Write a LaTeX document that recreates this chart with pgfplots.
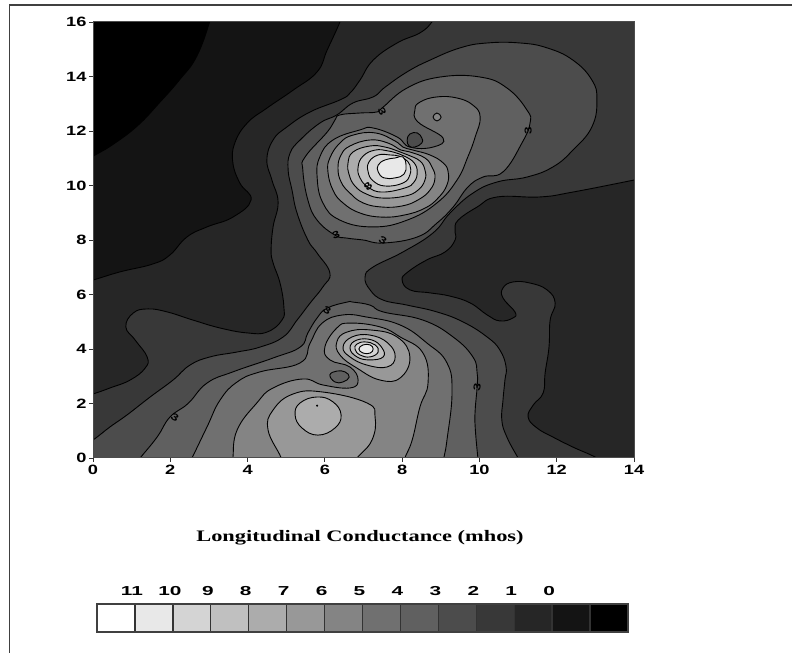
\documentclass[border=0pt]{standalone}
\usepackage{pgfplots}
\usepackage{fontspec}
\pgfplotsset{compat=1.18}
\setmainfont{Liberation Serif}
\newfontfamily\tickfont[FakeStretch=1.35]{Liberation Sans}
\newfontfamily\legendfont[FakeStretch=1.6]{Liberation Sans}
\newfontfamily\titlefont[FakeStretch=1.4]{Liberation Serif}

% legend greys, lowest band to highest
\definecolor{g0}{HTML}{141414}
\definecolor{g1}{HTML}{262626}
\definecolor{g2}{HTML}{383838}
\definecolor{g3}{HTML}{4C4C4C}
\definecolor{g4}{HTML}{606060}
\definecolor{g5}{HTML}{707070}
\definecolor{g6}{HTML}{848484}
\definecolor{g7}{HTML}{989898}
\definecolor{g8}{HTML}{ACACAC}
\definecolor{g9}{HTML}{C0C0C0}
\definecolor{g10}{HTML}{D4D4D4}
\definecolor{g11}{HTML}{E8E8E8}

\pgfplotsset{
  band/.style={draw=black, line width=0.9pt, fill=#1, smooth cycle, tension=0.75, mark=none},
  box/.style={draw=black!80, line width=1.3pt, fill=#1, mark=none},
}
\tikzset{lab/.style={font=\tickfont\bfseries\fontsize{10}{10}\selectfont, inner sep=0pt, text=black}}

\begin{document}
\begin{tikzpicture}[x=1pt, y=1pt]
\useasboundingbox (0,0) rectangle (792,653);
\draw[line width=1.3pt, draw=black!75] (792,648) -- (9.5,648) -- (9.5,0);

\begin{axis}[
  at={(93pt,195pt)}, anchor=south west,
  scale only axis, width=541pt, height=436pt,
  xmin=0, xmax=14, ymin=0, ymax=16,
  xtick={0,2,...,14}, ytick={0,2,...,16},
  tick pos=left, tick align=outside,
  major tick length=4pt,
  tick style={draw=black!80, line width=0.8pt},
  axis line style={draw=black!70, line width=1pt},
  axis on top,
  axis background/.style={fill=g0},
  /pgf/number format/assume math mode=true,
  tick label style={font=\tickfont\bfseries\fontsize{13.5}{14}\selectfont},
  xticklabel style={yshift=0pt},
  yticklabel style={xshift=1pt},
  clip=true,
]
% corner below 0
\addplot[band=black, draw=none] coordinates {
  (-0.5,10.6)(0,11.05)(0.52,11.49)(1.16,12.18)(1.73,13.03)(2.25,13.87)(2.69,14.72)(3.03,16)(3.1,16.5)(-0.5,16.5)};

% 0 contour
\addplot[band=g1] coordinates {
  (6.5,16.5)(6.39,16)(6.06,14.97)(5.80,14.17)(5.18,13.5)(4.50,12.84)(3.99,12.29)(3.67,11.56)(3.62,10.83)
  (3.80,10.09)(4.09,9.47)(3.62,8.84)(2.95,8.48)(2.43,8.11)(1.99,7.45)(1.55,7.12)(0.70,6.83)(0,6.53)(-0.5,6.35)
  (-0.5,-0.5)(14.5,-0.5)(14.5,16.5)};

% 1 contour
\addplot[band=g2] coordinates {
  (8.9,16.4)(8.77,16)(8.46,15.6)(7.87,15.23)(7.25,14.6)(6.91,13.87)(6.65,13.39)(6.39,13.14)(5.62,12.7)(5.02,12.15)
  (4.66,11.67)(4.50,10.94)(4.63,10.2)(4.79,9.39)(4.66,8.48)(4.61,7.63)(4.66,7.16)(4.84,6.42)(4.94,5.54)(4.89,5.06)
  (4.50,4.62)(3.99,4.59)(3.29,4.77)(2.59,5.06)(1.92,5.36)(1.42,5.47)(1.04,5.32)(0.85,4.81)(1.09,4.33)(1.40,3.71)
  (1.35,3.30)(0.96,2.86)(0.44,2.57)(0,2.35)(-0.5,2.15)(-0.5,-0.5)(13.6,-0.5)(13.04,0)(12.42,0.4)(11.9,0.77)(11.49,1.1)
  (11.26,1.5)(11.39,1.94)(11.65,2.39)(11.70,3.12)(11.8,4.07)(11.83,5.06)(11.96,5.69)(11.75,6.17)(11.31,6.42)(10.87,6.46)
  (10.61,6.24)(10.61,5.87)(10.92,5.36)(10.87,5.14)(10.53,5.03)(10.2,5.25)(9.76,5.69)(9.24,5.94)(8.72,6.06)(8.20,6.17)
  (8.0,6.53)(8.15,6.83)(8.64,7.27)(9.11,7.56)(9.37,8.0)(9.37,8.37)(9.45,8.73)(9.94,9.21)(10.46,9.58)(11.57,9.58)
  (12.42,9.76)(14,10.2)(14.5,10.35)(14.5,16.5)};

% 2 contour
\addplot[band=g3] coordinates {
  (-0.5,0.2)(0,0.66)(0.44,1.14)(0.88,1.58)(1.48,2.24)(2.07,2.86)(2.51,3.41)(3.03,3.71)(3.73,3.89)(4.32,4.07)(4.92,4.44)
  (5.28,5.06)(5.62,5.69)(5.95,6.28)(6.13,6.79)(5.8,7.52)(5.56,8.0)(5.28,8.99)(5.15,9.83)(5.05,10.57)(5.1,11.19)(5.36,11.67)
  (5.87,12.29)(6.31,12.59)(6.73,13.03)(7.25,13.25)(7.56,13.61)(8.13,14.17)(8.72,14.6)(9.5,15.05)(10.2,15.23)(11.05,15.23)
  (11.75,15.05)(12.42,14.6)(12.91,13.87)(13.04,13.14)(12.91,12.15)(12.42,11.3)(11.9,10.68)(11.23,10.31)(10.46,10.13)(9.83,9.72)
  (9.24,8.99)(8.8,8.26)(8.02,7.56)(7.25,7.01)(7.04,6.64)(7.17,6.17)(7.5,5.8)(8.13,5.61)(8.9,5.36)(9.58,4.99)(10.2,4.44)(10.53,3.96)
  (10.69,3.34)(10.66,2.86)(10.61,2.13)(10.58,1.39)(10.71,0.77)(11.0,0)(11.2,-0.5)(-0.5,-0.5)};

% 3 contour, upper and lower
\addplot[band=g4] coordinates {
  (6.39,12.59)(6.91,12.66)(7.35,12.70)(7.51,12.88)(8.13,13.58)(8.98,13.98)(10.02,13.98)(10.71,13.58)(11.23,12.77)(11.31,12.29)
  (11.10,11.56)(10.61,10.50)(10.09,10.31)(9.70,9.94)(9.32,9.21)(8.90,8.62)(8.39,8.11)(7.51,7.89)(6.99,8.0)(6.57,8.07)(6.26,8.18)
  (5.80,8.73)(5.56,9.47)(5.43,10.57)(5.49,11.05)(6.06,11.96)(6.26,12.40)};
\addplot[band=g4] coordinates {
  (1.0,-0.4)(1.22,0)(1.66,0.77)(1.99,1.50)(2.46,2.0)(2.95,2.75)(3.62,3.16)(4.66,3.67)(5.36,4.07)(5.56,4.59)(5.80,5.14)(6.06,5.50)
  (6.57,5.72)(6.73,5.72)(7.17,5.61)(7.51,5.36)(8.54,5.06)(9.32,4.44)(9.83,3.71)(9.94,3.12)(9.94,2.61)(9.89,1.76)(9.89,1.14)(9.96,0)(10,-0.4)};

% 4 contour
\addplot[band=g5] coordinates {
  (8.33,12.77)(8.46,13.06)(8.90,13.25)(9.42,13.21)(9.83,12.95)(10.02,12.51)(9.89,11.78)(9.70,11.05)(9.42,10.20)(8.90,9.36)(8.13,8.73)
  (7.25,8.48)(6.39,8.73)(5.95,9.36)(5.80,10.31)(5.87,11.05)(6.21,11.67)(6.91,12.04)(7.25,12.11)(7.87,11.78)(8.2,11.41)(8.80,11.41)
  (9.06,11.74)(8.41,12.33)};
\addplot[band=g5] coordinates {
  (2.4,-0.4)(2.56,0)(2.95,1.14)(3.29,2.13)(3.73,2.79)(4.32,3.16)(5.36,3.49)(5.62,4.22)(5.93,4.95)(6.47,5.25)(7.09,5.17)(7.95,4.88)
  (8.64,4.22)(9.16,3.49)(9.29,2.39)(9.16,0.66)(9.08,0)(9.05,-0.4)};

% holes of the upper lobe
\addplot[band=g3] coordinates {(8.13,11.67)(8.20,11.89)(8.39,11.93)(8.51,11.74)(8.51,11.56)(8.33,11.41)(8.18,11.45)};
\addplot[band=g6] coordinates {(8.80,12.51)(8.90,12.66)(9.01,12.51)(8.90,12.37)};

% upper peak, 5 to 10
\addplot[band=g6] coordinates {
  (8.28,11.30)(8.72,11.12)(9.06,10.83)(9.19,10.50)(9.16,10.02)(8.93,9.54)(8.59,9.17)(8.07,8.92)(7.48,8.84)(6.91,8.99)(6.47,9.36)
  (6.21,9.83)(6.08,10.50)(6.13,11.01)(6.39,11.56)(6.73,11.85)(7.30,11.93)(7.82,11.63)(8.02,11.41)};
\addplot[band=g7] coordinates {
  (8.20,11.23)(8.59,11.01)(8.77,10.68)(8.85,10.28)(8.72,9.83)(8.41,9.47)(8.0,9.25)(7.48,9.21)(6.99,9.36)(6.65,9.72)(6.42,10.13)
  (6.34,10.64)(6.42,11.12)(6.65,11.45)(7.17,11.67)(7.63,11.56)(7.97,11.30)};
\addplot[band=g8] coordinates {
  (8.15,11.12)(8.46,10.90)(8.59,10.57)(8.59,10.20)(8.41,9.83)(8.07,9.61)(7.48,9.54)(7.07,9.69)(6.78,9.98)(6.63,10.39)(6.60,10.83)
  (6.73,11.23)(7.17,11.45)(7.56,11.41)(7.95,11.23)};
\addplot[band=g9] coordinates {
  (8.10,11.05)(8.31,10.83)(8.39,10.50)(8.31,10.13)(8.07,9.91)(7.48,9.76)(7.12,9.94)(6.91,10.28)(6.86,10.68)(6.99,11.08)(7.30,11.30)
  (7.63,11.27)(7.92,11.16)};
\addplot[band=g10] coordinates {
  (8.07,10.97)(8.20,10.75)(8.20,10.39)(8.02,10.09)(7.56,9.98)(7.25,10.17)(7.12,10.50)(7.14,10.86)(7.38,11.12)(7.69,11.12)(7.92,11.08)};
\addplot[band=g11] coordinates {
  (8.02,11.05)(8.10,10.75)(8.05,10.42)(7.82,10.28)(7.53,10.28)(7.38,10.50)(7.38,10.75)(7.56,10.94)(7.82,11.01)};

% 5 contour of the lower lobe, with its notch
\addplot[band=g6] coordinates {
  (3.6,-0.4)(3.62,0)(3.73,1.03)(4.24,2.02)(4.66,2.57)(5.43,2.90)(5.95,2.68)(6.65,2.57)(6.86,2.86)(6.65,3.34)(6.13,3.60)(6.0,4.07)
  (6.31,4.77)(6.65,4.95)(7.43,4.81)(7.95,4.44)(8.54,3.85)(8.67,2.75)(8.46,1.87)(8.26,0.66)(8.07,0)(8.0,-0.4)};
\addplot[band=g4] coordinates {(6.13,3.05)(6.31,3.19)(6.52,3.16)(6.63,2.97)(6.47,2.79)(6.26,2.79)};

% lower peak rings
\addplot[band=g7] coordinates {(6.31,4.26)(6.39,3.78)(6.83,3.30)(7.43,2.86)(7.95,2.94)(8.20,3.71)(7.87,4.44)(7.17,4.70)(6.57,4.62)};
\addplot[band=g8] coordinates {(6.47,4.07)(6.65,3.71)(7.09,3.41)(7.61,3.34)(7.82,3.71)(7.63,4.22)(7.17,4.51)(6.70,4.44)};
\addplot[band=g9] coordinates {(6.65,4.04)(6.83,3.71)(7.17,3.60)(7.51,3.71)(7.48,4.04)(7.22,4.33)(6.83,4.33)};
\addplot[band=g10] coordinates {(6.78,4.0)(6.91,3.78)(7.17,3.71)(7.38,3.89)(7.30,4.15)(7.04,4.26)(6.83,4.18)};
\addplot[band=g11] coordinates {(6.88,4.0)(6.99,3.85)(7.17,3.85)(7.25,4.0)(7.17,4.15)(6.99,4.15)};

% bottom lobe
\addplot[band=g7] coordinates {
  (4.9,-0.4)(4.87,0)(4.53,1.03)(4.66,1.76)(5.18,2.35)(5.95,2.42)(7.09,2.02)(7.30,1.50)(7.22,0.66)(6.83,0)(6.6,-0.4)};
\addplot[band=g8] coordinates {(5.23,1.58)(5.36,2.02)(5.80,2.24)(6.21,2.06)(6.42,1.58)(6.26,1.10)(5.82,0.84)(5.41,1.10)};
\addplot[only marks, mark=*, mark size=0.8pt, black] coordinates {(5.8,1.92)};

% contour labels
\node[lab, rotate=-65] at (axis cs:7.48,12.70) {3};
\node[lab, rotate=90] at (axis cs:11.26,12.0) {3};
\node[lab, rotate=45] at (axis cs:7.12,9.98) {8};
\node[lab, rotate=20] at (axis cs:6.29,8.18) {3};
\node[lab, rotate=-30] at (axis cs:7.5,8.0) {3};
\node[lab, rotate=-30] at (axis cs:6.06,5.43) {3};
\node[lab, rotate=80] at (axis cs:9.94,2.6) {3};
\node[lab, rotate=-30] at (axis cs:2.12,1.5) {3};
\end{axis}

\node[font=\titlefont\bfseries\fontsize{16}{17}\selectfont, anchor=center] at (360,115) {Longitudinal Conductance (mhos)};

% legend strip
\begin{axis}[
  at={(97pt,21pt)}, anchor=south west,
  scale only axis, width=531pt, height=28pt,
  xmin=0, xmax=14, ymin=0, ymax=1,
  xtick={1,...,12},
  xticklabels={11,10,9,8,7,6,5,4,3,2,1,0},
  ytick=\empty,
  x tick label style={font=\legendfont\bfseries\fontsize{13}{14}\selectfont, yshift=5pt, xshift=-3pt},
  xticklabel pos=right,
  major tick length=0pt,
  axis line style={draw=black!75, line width=1.4pt},
  axis on top,
  clip=false,
]
\addplot[box=white] coordinates {(0,0)(1,0)(1,1)(0,1)} --cycle;
\addplot[box=g11] coordinates {(1,0)(2,0)(2,1)(1,1)} --cycle;
\addplot[box=g10] coordinates {(2,0)(3,0)(3,1)(2,1)} --cycle;
\addplot[box=g9] coordinates {(3,0)(4,0)(4,1)(3,1)} --cycle;
\addplot[box=g8] coordinates {(4,0)(5,0)(5,1)(4,1)} --cycle;
\addplot[box=g7] coordinates {(5,0)(6,0)(6,1)(5,1)} --cycle;
\addplot[box=g6] coordinates {(6,0)(7,0)(7,1)(6,1)} --cycle;
\addplot[box=g5] coordinates {(7,0)(8,0)(8,1)(7,1)} --cycle;
\addplot[box=g4] coordinates {(8,0)(9,0)(9,1)(8,1)} --cycle;
\addplot[box=g3] coordinates {(9,0)(10,0)(10,1)(9,1)} --cycle;
\addplot[box=g2] coordinates {(10,0)(11,0)(11,1)(10,1)} --cycle;
\addplot[box=g1] coordinates {(11,0)(12,0)(12,1)(11,1)} --cycle;
\addplot[box=g0] coordinates {(12,0)(13,0)(13,1)(12,1)} --cycle;
\addplot[box=black] coordinates {(13,0)(14,0)(14,1)(13,1)} --cycle;
\end{axis}
\end{tikzpicture}
\end{document}
